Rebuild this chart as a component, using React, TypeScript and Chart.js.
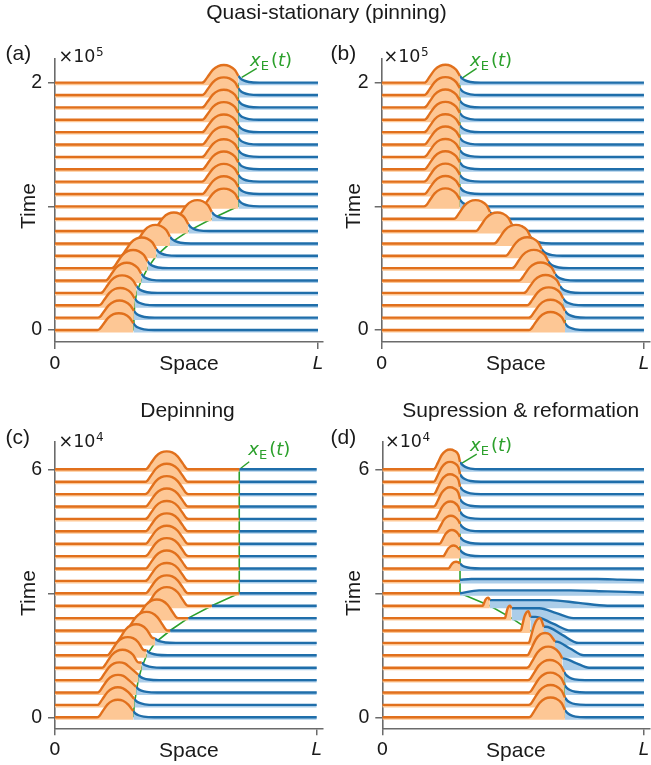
import React, { useEffect, useRef } from 'react';
import { Chart, registerables } from 'chart.js';

Chart.register(...registerables);

const TEXT_FONT = 'Liberation Sans';
const MATH_FONT = 'DejaVu Sans';
const ORANGE = '#e1701c';
const ORANGE_FILL = '#fdc795';
const BLUE = '#1f6eaa';
const BLUE_FILL = '#abcde9';
const GREEN = '#2ca02c';
const AXIS_COLOR = '#6b6b6b';
const TEXT_COLOR = '#1a1a1a';

// ---- data ----
// time of each trace (a,b in units of 1e5, c,d in units of 1e4)
const TIMES_AB = [0, 0.1, 0.2, 0.3, 0.4, 0.5, 0.6, 0.7, 0.8, 0.9, 1.0, 1.1, 1.2, 1.3, 1.4, 1.5, 1.6, 1.7, 1.8, 1.9, 2.0];
const TIMES_CD = [0, 0.3, 0.6, 0.9, 1.2, 1.5, 1.8, 2.1, 2.4, 2.7, 3.0, 3.3, 3.6, 3.9, 4.2, 4.5, 4.8, 5.1, 5.4, 5.7, 6.0];
const STEP_AB = 0.1;
const STEP_CD = 0.3;
const Y_TICKS_AB = [0, 1, 2];
const Y_LABELS_AB = ['0', '', '2'];
const Y_TICKS_CD = [0, 3, 6];
const Y_LABELS_CD = ['0', '', '6'];
const X_TICKS = [0, 1];
const X_LABELS = ['0', 'L'];

// shape of the bump's flank (offset from peak in half-widths, relative height)
const RISE_OFFSETS = [1, 0.9, 0.75, 0.5, 0.25];
const RISE_VALUES = [0, 0.05, 0.3, 0.72, 0.94];
// decay of the blue profile in front of x_E
const DECAY_OFFSETS = [0, 0.1, 0.25, 0.5, 1];
const DECAY_VALUES = [1, 0.62, 0.33, 0.1, 0];
const DECAY_LEN = 0.08;
const BAND = 0.2; // light band under each trace (in trace spacings)

// (a) quasi-stationary, pinning after moving right
const A_PEAK_X = [0.243, 0.245, 0.248, 0.255, 0.273, 0.297, 0.33, 0.382, 0.452, 0.541, 0.642, 0.642, 0.642, 0.642, 0.642, 0.642, 0.642, 0.642, 0.642, 0.642, 0.642];
const A_PEAK_H = [1.36, 1.38, 1.4, 1.42, 1.44, 1.47, 1.48, 1.5, 1.5, 1.5, 1.43, 1.43, 1.43, 1.43, 1.43, 1.43, 1.43, 1.43, 1.43, 1.43, 1.43];
const A_WIDTH = [0.082, 0.082, 0.082, 0.082, 0.082, 0.082, 0.082, 0.082, 0.082, 0.082, 0.084, 0.084, 0.084, 0.084, 0.084, 0.084, 0.084, 0.084, 0.084, 0.084, 0.084];
const A_FRONT_X = [0.298, 0.3, 0.303, 0.31, 0.328, 0.352, 0.385, 0.437, 0.507, 0.596, 0.697, 0.697, 0.697, 0.697, 0.697, 0.697, 0.697, 0.697, 0.697, 0.697, 0.697];
const A_FRONT_H = [0.55, 0.55, 0.55, 0.55, 0.55, 0.55, 0.55, 0.55, 0.55, 0.55, 0.55, 0.55, 0.55, 0.55, 0.55, 0.55, 0.55, 0.55, 0.55, 0.55, 0.55];

// (b) quasi-stationary, pinning after moving left
const B_PEAK_X = [0.644, 0.644, 0.637, 0.625, 0.606, 0.58, 0.555, 0.512, 0.441, 0.358, 0.243, 0.243, 0.243, 0.243, 0.243, 0.243, 0.243, 0.243, 0.243, 0.243, 0.243];
const B_PEAK_H = [1.45, 1.45, 1.45, 1.45, 1.46, 1.48, 1.5, 1.5, 1.5, 1.5, 1.45, 1.45, 1.45, 1.45, 1.45, 1.45, 1.45, 1.45, 1.45, 1.45, 1.45];
const B_WIDTH = [0.084, 0.084, 0.084, 0.084, 0.084, 0.084, 0.084, 0.084, 0.084, 0.084, 0.082, 0.082, 0.082, 0.082, 0.082, 0.082, 0.082, 0.082, 0.082, 0.082, 0.082];
const B_FRONT_X = [0.699, 0.699, 0.692, 0.68, 0.661, 0.635, 0.61, 0.567, 0.496, 0.413, 0.298, 0.298, 0.298, 0.298, 0.298, 0.298, 0.298, 0.298, 0.298, 0.298, 0.298];
const B_FRONT_H = [0.55, 0.55, 0.55, 0.55, 0.55, 0.55, 0.55, 0.55, 0.55, 0.55, 0.55, 0.55, 0.55, 0.55, 0.55, 0.55, 0.55, 0.55, 0.55, 0.55, 0.55];

// (c) depinning
const C_PEAK_X = [0.24, 0.24, 0.241, 0.246, 0.258, 0.278, 0.31, 0.35, 0.389, 0.427, 0.427, 0.427, 0.427, 0.427, 0.427, 0.427, 0.427, 0.427, 0.427, 0.427, 0.427];
const C_PEAK_H = [1.42, 1.42, 1.42, 1.43, 1.45, 1.47, 1.5, 1.5, 1.5, 1.5, 1.45, 1.45, 1.45, 1.45, 1.45, 1.45, 1.45, 1.45, 1.45, 1.45, 1.45];
const C_WIDTH = [0.08, 0.08, 0.08, 0.08, 0.08, 0.08, 0.08, 0.082, 0.082, 0.083, 0.083, 0.083, 0.083, 0.083, 0.083, 0.083, 0.083, 0.083, 0.083, 0.083, 0.083];
const C_FRONT_X = [0.299, 0.303, 0.31, 0.318, 0.331, 0.35, 0.382, 0.44, 0.509, 0.599, 0.704, 0.704, 0.704, 0.704, 0.704, 0.704, 0.704, 0.704, 0.704, 0.704, 0.704];
const C_FRONT_H = [0.5, 0.48, 0.46, 0.44, 0.42, 0.4, 0.36, 0, 0, 0, 0, 0, 0, 0, 0, 0, 0, 0, 0, 0, 0];

// (d) suppression & reformation
const D_PEAK_X = [0.643, 0.643, 0.642, 0.64, 0.634, 0.622, 0.603, 0.558, 0.488, 0.405, 0.26, 0.26, 0.282, 0.272, 0.266, 0.262, 0.26, 0.259, 0.259, 0.259, 0.259];
const D_PEAK_H = [1.6, 1.6, 1.6, 1.62, 1.7, 1.8, 2.0, 1.55, 1.0, 0.65, 0, 0, 0.55, 0.85, 1.1, 1.25, 1.4, 1.55, 1.6, 1.6, 1.6];
const D_WIDTH = [0.084, 0.084, 0.084, 0.084, 0.082, 0.07, 0.045, 0.03, 0.02, 0.022, 0.02, 0.02, 0.03, 0.04, 0.048, 0.055, 0.06, 0.063, 0.064, 0.064, 0.064];
const D_FRONT_X = [0.698, 0.698, 0.697, 0.695, 0.688, 0.66, 0.617, 0.566, 0.494, 0.411, 0.297, 0.297, 0.297, 0.297, 0.297, 0.297, 0.297, 0.297, 0.297, 0.297, 0.297];
const D_FRONT_H = [0.6, 0.6, 0.6, 0.65, 0.75, 1.1, 1.3, 1.1, 0.8, 0.45, 0, 0.08, 0.4, 0.5, 0.55, 0.6, 0.6, 0.6, 0.6, 0.6, 0.6];
// elevated blue profiles in (d): plateau level, end of rise, end of plateau, end of relaxation, level at L
const D_BLUE_LEVEL = [null, null, null, null, 0.75, 1.1, 1.3, 1.1, 0.8, 0.45, 0.24, 0.15, null, null, null, null, null, null, null, null, null];
const D_BLUE_RISE_END = [null, null, null, null, 0.688, 0.66, 0.617, 0.566, 0.494, 0.411, 0.37, 0.34, null, null, null, null, null, null, null, null, null];
const D_BLUE_HOLD_END = [null, null, null, null, 0.69, 0.665, 0.625, 0.585, 0.6, 0.64, 0.72, 0.82, null, null, null, null, null, null, null, null, null];
const D_BLUE_RELAX_END = [null, null, null, null, 0.79, 0.77, 0.75, 0.72, 0.73, 0.86, 1.0, 1.0, null, null, null, null, null, null, null, null, null];
const D_BLUE_TAIL = [null, null, null, null, 0, 0, 0, 0, 0, 0, 0.07, 0.05, null, null, null, null, null, null, null, null, null];

// ---- profile builders (x in units of L, u in trace spacings) ----
type P = [number, number];

function orangeProfile(peakX: number, peakH: number, width: number, frontX: number, frontH: number): P[] {
  const pts: P[] = [[0, 0]];
  if (peakH <= 0) {
    pts.push([frontX, 0]);
    return pts;
  }
  for (let i = 0; i < RISE_OFFSETS.length; i++) {
    const x = peakX - RISE_OFFSETS[i] * width;
    if (x > 0 && x < frontX - 1e-4) pts.push([x, RISE_VALUES[i] * peakH]);
  }
  if (peakX < frontX - 1e-4) pts.push([peakX, peakH]);
  if (frontH > 0) {
    for (let i = RISE_OFFSETS.length - 1; i >= 0; i--) {
      const x = peakX + RISE_OFFSETS[i] * width;
      const v = RISE_VALUES[i] * peakH;
      if (x < frontX - 0.004 && v > frontH) pts.push([x, v]);
    }
    pts.push([frontX, frontH]);
  } else {
    for (let i = RISE_OFFSETS.length - 1; i >= 0; i--) {
      pts.push([peakX + RISE_OFFSETS[i] * width, RISE_VALUES[i] * peakH]);
    }
    if (frontX > peakX + width + 1e-4) pts.push([frontX, 0]);
  }
  return pts;
}

function blueDecay(frontX: number, frontH: number): P[] {
  const pts: P[] = [];
  if (frontH > 0) {
    for (let i = 0; i < DECAY_OFFSETS.length; i++) {
      pts.push([frontX + DECAY_OFFSETS[i] * DECAY_LEN, frontH * DECAY_VALUES[i]]);
    }
  } else {
    pts.push([frontX, 0]);
  }
  pts.push([1, 0]);
  return pts;
}

function bluePlateau(frontX: number, h0: number, level: number, riseEnd: number, holdEnd: number, relaxEnd: number, tail: number): P[] {
  const pts: P[] = [[frontX, h0]];
  let last = frontX;
  if (riseEnd > last + 1e-3) { pts.push([riseEnd, level]); last = riseEnd; }
  if (holdEnd > last + 1e-3) { pts.push([holdEnd, level]); last = holdEnd; }
  pts.push([(last + relaxEnd) / 2, (level + tail) / 2]);
  pts.push([relaxEnd, tail]);
  if (relaxEnd < 1 - 1e-3) pts.push([1, tail]);
  return pts;
}

interface PanelSpec {
  left: number; top: number; w: number; h: number;
  yAxisW: number; xAxisH: number; padTop: number; padRight: number;
  xMax: number; yMin: number; yMax: number;
  times: number[]; step: number; yTicks: number[]; yLabels: string[];
  peakX: number[]; peakH: number[]; width: number[]; frontX: number[]; frontH: number[];
  plateau?: boolean;
  leader: number[];
}

const LINE = {
  borderWidth: 2.4,
  pointRadius: 0,
  pointHoverRadius: 0,
  cubicInterpolationMode: 'monotone',
  borderJoinStyle: 'round',
  borderCapStyle: 'butt',
};

function makeConfig(p: PanelSpec): any {
  const datasets: any[] = [];
  const n = p.times.length;
  for (let k = 0; k < n; k++) {
    const t = p.times[k];
    const toXY = (pts: P[]) => pts.map(([x, u]) => ({ x, y: t + u * p.step }));
    const base = { value: t - BAND * p.step };
    const orange = orangeProfile(p.peakX[k], p.peakH[k], p.width[k], p.frontX[k], p.frontH[k]);
    let blue: P[];
    if (p.plateau && D_BLUE_LEVEL[k] !== null) {
      blue = bluePlateau(p.frontX[k], p.frontH[k], D_BLUE_LEVEL[k] as number, D_BLUE_RISE_END[k] as number,
        D_BLUE_HOLD_END[k] as number, D_BLUE_RELAX_END[k] as number, D_BLUE_TAIL[k] as number);
    } else {
      blue = blueDecay(p.frontX[k], p.frontH[k]);
    }
    datasets.push({ data: toXY(orange), borderColor: ORANGE, backgroundColor: ORANGE_FILL, fill: base, ...LINE });
    datasets.push({ data: toXY(blue), borderColor: BLUE, backgroundColor: BLUE_FILL, fill: base, ...LINE });
  }
  const F = p.frontX[n - 1];
  const T = p.times[n - 1];
  datasets.push({
    data: [{ x: F + p.leader[0], y: T + p.leader[1] * p.step }, { x: F + p.leader[2], y: T + p.leader[3] * p.step }],
    borderColor: GREEN, borderWidth: 1.4, fill: false, pointRadius: 0, tension: 0,
  });
  datasets.push({
    data: p.frontX.map((x, k) => ({ x, y: p.times[k] })),
    borderColor: GREEN, borderWidth: 1.6, fill: false, pointRadius: 0, tension: 0,
  });

  return {
    type: 'line',
    data: { datasets },
    options: {
      animation: false,
      responsive: false,
      devicePixelRatio: 1,
      events: [],
      layout: { padding: { top: p.padTop, right: p.padRight, left: 0, bottom: 0 } },
      plugins: { legend: { display: false }, tooltip: { enabled: false }, title: { display: false } },
      scales: {
        x: {
          type: 'linear', min: 0, max: p.xMax,
          afterBuildTicks: (s: any) => { s.ticks = X_TICKS.map((v) => ({ value: v })); },
          afterFit: (s: any) => { s.height = p.xAxisH; s.paddingLeft = 0; s.paddingRight = 0; },
          ticks: {
            autoSkip: false, maxRotation: 0, minRotation: 0, padding: 4, color: TEXT_COLOR,
            callback: (_v: any, i: number) => X_LABELS[i],
            font: (ctx: any) => ({ family: MATH_FONT, size: 18.5, style: ctx.index === 1 ? 'italic' : 'normal' }),
          },
          grid: { display: true, drawOnChartArea: false, drawTicks: true, tickLength: 7, color: AXIS_COLOR, tickColor: AXIS_COLOR, lineWidth: 1.5 },
          border: { display: true, color: AXIS_COLOR, width: 1.6 },
        },
        y: {
          type: 'linear', min: p.yMin, max: p.yMax,
          afterBuildTicks: (s: any) => { s.ticks = p.yTicks.map((v) => ({ value: v })); },
          afterFit: (s: any) => { s.width = p.yAxisW; s.paddingTop = 0; s.paddingBottom = 0; },
          ticks: {
            autoSkip: false, padding: 6, color: TEXT_COLOR,
            callback: (_v: any, i: number) => p.yLabels[i],
            font: { family: TEXT_FONT, size: 19.5 },
          },
          grid: { display: true, drawOnChartArea: false, drawTicks: true, tickLength: 7, color: AXIS_COLOR, tickColor: AXIS_COLOR, lineWidth: 1.5 },
          border: { display: true, color: AXIS_COLOR, width: 1.6 },
        },
      },
    },
  };
}

const PANELS: PanelSpec[] = [
  {
    left: 0, top: 0, w: 325, h: 380, yAxisW: 55, xAxisH: 38, padTop: 58.3, padRight: 2,
    xMax: 1.019, yMin: -0.097, yMax: 2.197, times: TIMES_AB, step: STEP_AB, yTicks: Y_TICKS_AB, yLabels: Y_LABELS_AB,
    peakX: A_PEAK_X, peakH: A_PEAK_H, width: A_WIDTH, frontX: A_FRONT_X, frontH: A_FRONT_H,
    leader: [0.013, 0.43, 0.07, 1.16],
  },
  {
    left: 325, top: 0, w: 326, h: 380, yAxisW: 56.7, xAxisH: 38, padTop: 58.3, padRight: 1,
    xMax: 1.023, yMin: -0.097, yMax: 2.197, times: TIMES_AB, step: STEP_AB, yTicks: Y_TICKS_AB, yLabels: Y_LABELS_AB,
    peakX: B_PEAK_X, peakH: B_PEAK_H, width: B_WIDTH, frontX: B_FRONT_X, frontH: B_FRONT_H,
    leader: [0.007, 0.35, 0.064, 1.16],
  },
  {
    left: 0, top: 380, w: 325, h: 385, yAxisW: 55, xAxisH: 36.7, padTop: 61.7, padRight: 2,
    xMax: 1.024, yMin: -0.266, yMax: 6.668, times: TIMES_CD, step: STEP_CD, yTicks: Y_TICKS_CD, yLabels: Y_LABELS_CD,
    peakX: C_PEAK_X, peakH: C_PEAK_H, width: C_WIDTH, frontX: C_FRONT_X, frontH: C_FRONT_H,
    leader: [0.006, 0.08, 0.038, 0.61],
  },
  {
    left: 325, top: 380, w: 326, h: 385, yAxisW: 57.3, xAxisH: 36.7, padTop: 61.7, padRight: 1,
    xMax: 1.023, yMin: -0.266, yMax: 6.668, times: TIMES_CD, step: STEP_CD, yTicks: Y_TICKS_CD, yLabels: Y_LABELS_CD,
    peakX: D_PEAK_X, peakH: D_PEAK_H, width: D_WIDTH, frontX: D_FRONT_X, frontH: D_FRONT_H, plateau: true,
    leader: [0.006, 0.48, 0.064, 1.23],
  },
];

function Panel({ spec }: { spec: PanelSpec }) {
  const ref = useRef<HTMLCanvasElement>(null);
  useEffect(() => {
    const chart = new Chart(ref.current as HTMLCanvasElement, makeConfig(spec));
    return () => chart.destroy();
  }, [spec]);
  return (
    <canvas
      ref={ref}
      width={spec.w}
      height={spec.h}
      style={{ position: 'absolute', left: spec.left, top: spec.top, width: spec.w, height: spec.h }}
    />
  );
}

function Txt(props: { x: number; base: number; size: number; font?: string; align?: 'left' | 'center'; color?: string; children: React.ReactNode }) {
  const { x, base, size, font = TEXT_FONT, align = 'left', color = TEXT_COLOR } = props;
  return (
    <div
      style={{
        position: 'absolute', left: x, top: base - 0.8465 * size, fontSize: size, lineHeight: `${size}px`,
        fontFamily: font, color, whiteSpace: 'nowrap', pointerEvents: 'none',
        transform: align === 'center' ? 'translateX(-50%)' : undefined,
      }}
    >
      {props.children}
    </div>
  );
}

function Rot(props: { cx: number; cy: number; size: number; children: React.ReactNode }) {
  return (
    <div
      style={{
        position: 'absolute', left: props.cx, top: props.cy, fontSize: props.size, lineHeight: `${props.size}px`,
        fontFamily: TEXT_FONT, color: TEXT_COLOR, whiteSpace: 'nowrap',
        transform: 'translate(-50%, -50%) rotate(-90deg)',
      }}
    >
      {props.children}
    </div>
  );
}

function XE(props: { x: number; base: number }) {
  const s = 18;
  return (
    <Txt x={props.x} base={props.base} size={s} font={MATH_FONT} color={GREEN}>
      <span style={{ fontStyle: 'italic' }}>x</span>
      <span style={{ fontSize: 13, position: 'relative', top: 4 }}>E</span>
      <span style={{ marginLeft: 2 }}>(</span>
      <span style={{ fontStyle: 'italic' }}>t</span>
      <span>)</span>
    </Txt>
  );
}

function Mult(props: { x: number; base: number; exp: string }) {
  return (
    <>
      <Txt x={props.x} base={props.base} size={17.5} font={MATH_FONT}>×10</Txt>
      <Txt x={props.x + 37.5} base={props.base - 7} size={12} font={MATH_FONT}>{props.exp}</Txt>
    </>
  );
}

export default function App() {
  return (
    <div style={{ position: 'absolute', left: 0, top: 0, width: 651, height: 765, background: '#ffffff', overflow: 'hidden' }}>
      {PANELS.map((p, i) => <Panel key={i} spec={p} />)}
      <Txt x={326.5} base={19} size={21} align="center">Quasi-stationary (pinning)</Txt>
      <Txt x={187.5} base={416.7} size={21} align="center">Depinning</Txt>
      <Txt x={520.8} base={416.7} size={21} align="center">Supression &amp; reformation</Txt>

      <Txt x={5.5} base={59.5} size={21}>(a)</Txt>
      <Txt x={330.5} base={59.5} size={21}>(b)</Txt>
      <Txt x={5.5} base={444} size={21}>(c)</Txt>
      <Txt x={330.5} base={444} size={21}>(d)</Txt>

      <Mult x={58.5} base={63.3} exp="5" />
      <Mult x={383.5} base={63.3} exp="5" />
      <Mult x={58.5} base={447.7} exp="4" />
      <Mult x={385} base={447.7} exp="4" />

      <Rot cx={27} cy={206} size={21}>Time</Rot>
      <Rot cx={352} cy={206} size={21}>Time</Rot>
      <Rot cx={27} cy={593} size={21}>Time</Rot>
      <Rot cx={352} cy={593} size={21}>Time</Rot>

      <Txt x={189} base={370} size={21} align="center">Space</Txt>
      <Txt x={515.8} base={370} size={21} align="center">Space</Txt>
      <Txt x={188.8} base={756.7} size={21} align="center">Space</Txt>
      <Txt x={515.8} base={756.7} size={21} align="center">Space</Txt>

      <XE x={250} base={66.5} />
      <XE x={470} base={66.5} />
      <XE x={248.3} base={455} />
      <XE x={470} base={451.7} />
    </div>
  );
}
